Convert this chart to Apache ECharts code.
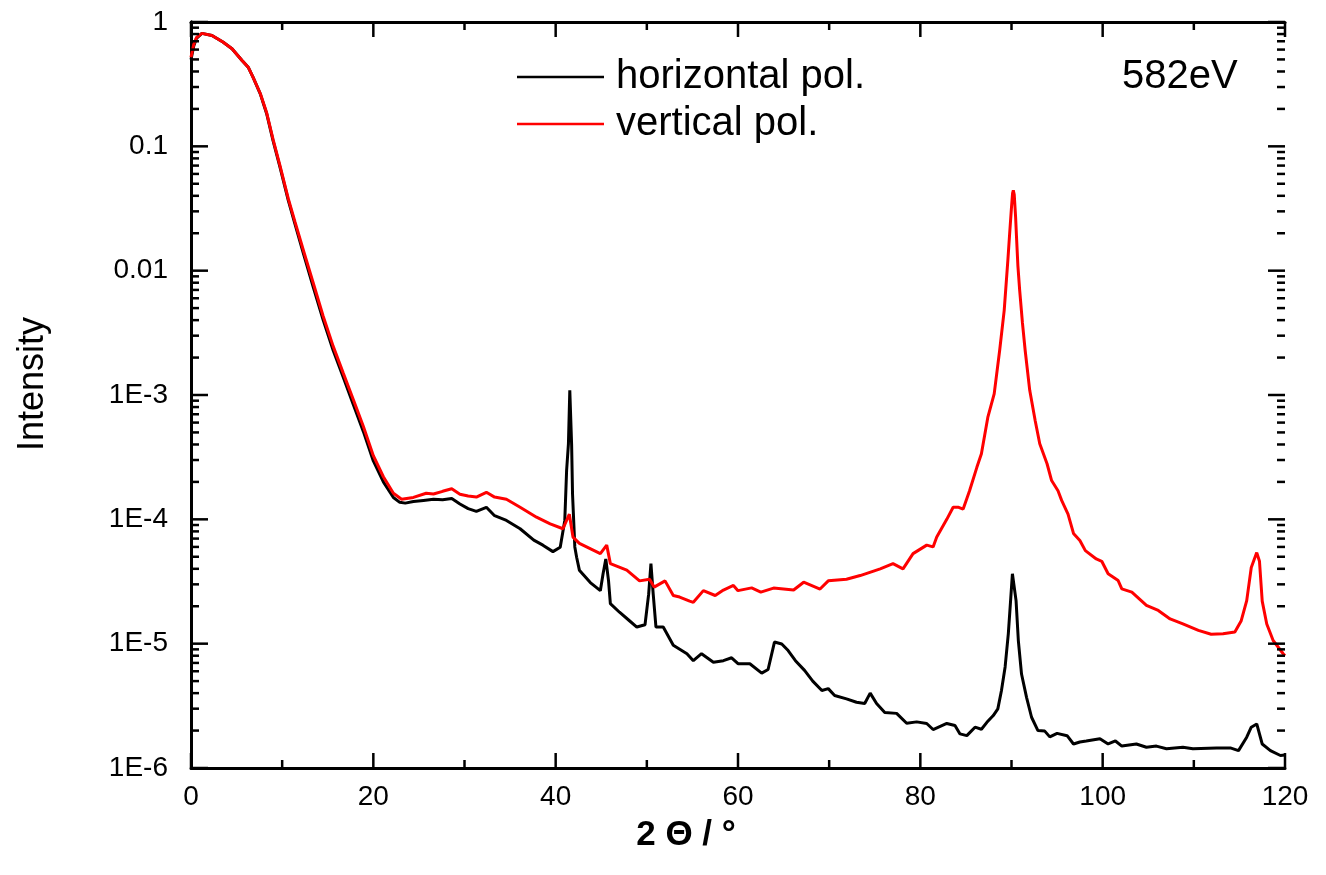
<!DOCTYPE html>
<html><head><meta charset="utf-8">
<script src="https://cdn.jsdelivr.net/npm/echarts@6/dist/echarts.min.js"></script>
<style>html,body{margin:0;padding:0;background:#fff}#c{width:1326px;height:875px}</style>
</head><body><div id="c"></div>
<script>
// ---- data ----
const horizAngle = [0,0.3,0.6,1.2,2.3,3.5,4.5,5.6,6.3,6.8,7.6,8.3,9.0,9.76,10.67,11.4,12.3,13.4,14.5,15.6,16.7,17.8,18.9,20.0,21.1,22.2,22.9,23.5,24.4,25.5,26.6,27.6,28.6,29.5,30.4,31.3,32.4,33.3,34.6,36.1,37.6,38.6,39.7,40.5,41.0,41.2,41.4,41.55,41.75,41.85,42.1,42.3,42.6,43.8,44.9,45.2,45.5,45.8,46.0,47.0,48.0,48.9,49.8,50.2,50.45,50.7,51.0,51.8,52.9,54.4,55.1,56.0,57.3,58.4,59.3,60.0,61.3,62.6,63.3,64.0,64.8,65.5,66.3,67.3,68.2,69.2,69.9,70.6,71.9,73.0,73.9,74.5,75.2,76.1,77.4,78.5,79.6,80.7,81.4,82.9,83.8,84.35,85.1,86.0,86.7,87.3,88.0,88.5,88.9,89.3,89.65,89.9,90.1,90.25,90.5,90.75,91.1,91.65,92.2,92.9,93.65,94.2,95.0,96.1,96.8,97.5,98.2,99.7,100.6,101.4,102.1,103.7,104.8,105.9,107.0,108.8,109.9,112.5,114.0,114.9,115.8,116.3,116.9,117.5,118.4,119.5,120.0];
const horizIntensity = [0.50,0.64,0.74,0.81,0.78,0.69,0.61,0.49,0.43,0.36,0.264,0.183,0.111,0.068,0.0367,0.0238,0.0140,0.0074,0.0040,0.00228,0.00139,8.4e-4,5.1e-4,2.95e-4,2.0e-4,1.5e-4,1.37e-4,1.35e-4,1.39e-4,1.42e-4,1.45e-4,1.44e-4,1.47e-4,1.33e-4,1.22e-4,1.16e-4,1.25e-4,1.07e-4,9.8e-5,8.4e-5,6.8e-5,6.2e-5,5.5e-5,5.97e-5,9.8e-5,2.47e-4,4.05e-4,1.09e-3,4.0e-4,1.6e-4,6.0e-5,4.95e-5,3.9e-5,3.1e-5,2.67e-5,3.65e-5,4.8e-5,3.2e-5,2.1e-5,1.79e-5,1.55e-5,1.36e-5,1.42e-5,2.5e-5,4.4e-5,2.5e-5,1.36e-5,1.36e-5,9.7e-6,8.3e-6,7.3e-6,8.3e-6,7.1e-6,7.3e-6,7.7e-6,6.9e-6,6.9e-6,5.8e-6,6.2e-6,1.03e-5,9.95e-6,8.8e-6,7.3e-6,6.1e-6,5.0e-6,4.2e-6,4.35e-6,3.83e-6,3.6e-6,3.38e-6,3.3e-6,4.0e-6,3.3e-6,2.8e-6,2.75e-6,2.29e-6,2.35e-6,2.28e-6,2.04e-6,2.28e-6,2.2e-6,1.88e-6,1.82e-6,2.13e-6,2.05e-6,2.33e-6,2.64e-6,2.99e-6,4.2e-6,6.5e-6,1.2e-5,2.22e-5,3.65e-5,3.76e-5,2.22e-5,1.06e-5,5.7e-6,3.7e-6,2.56e-6,2.0e-6,1.98e-6,1.78e-6,1.9e-6,1.82e-6,1.56e-6,1.62e-6,1.65e-6,1.72e-6,1.56e-6,1.65e-6,1.5e-6,1.56e-6,1.47e-6,1.5e-6,1.43e-6,1.47e-6,1.43e-6,1.45e-6,1.45e-6,1.38e-6,1.77e-6,2.13e-6,2.26e-6,1.56e-6,1.38e-6,1.26e-6,1.27e-6];
const vertAngle = [0,0.3,0.6,1.2,2.3,3.5,4.5,5.6,6.3,6.8,7.6,8.3,9.0,9.76,10.67,11.4,12.3,13.4,14.5,15.6,16.7,17.8,18.9,20.0,21.1,22.2,23.1,24.4,25.8,26.6,27.6,28.6,29.5,30.4,31.3,32.4,33.3,34.6,36.1,37.9,39.4,40.8,41.5,41.9,42.6,44.9,45.6,46.0,47.8,49.2,50.3,50.8,52.0,52.9,53.6,54.7,55.1,56.2,57.5,58.4,59.5,60.0,61.5,62.5,63.9,66.1,67.2,69.0,69.9,71.9,73.4,75.6,77.0,78.1,79.2,80.7,81.4,81.8,82.9,83.6,84.2,84.7,85.4,86.2,86.7,87.4,88.1,88.7,89.2,89.6,89.8,90.0,90.12,90.2,90.3,90.45,90.55,90.7,90.9,91.2,91.5,92.0,92.6,93.1,93.9,94.4,95.1,95.5,96.2,96.8,97.5,98.1,99.3,99.9,100.6,101.7,102.1,103.2,104.8,106.1,107.4,108.8,110.5,111.9,113.2,114.5,115.2,115.8,116.3,116.9,117.2,117.5,118.0,118.7,119.8,120.0];
const vertIntensity = [0.52,0.66,0.75,0.81,0.78,0.69,0.61,0.49,0.43,0.36,0.266,0.186,0.114,0.070,0.038,0.0248,0.0148,0.0080,0.0043,0.00246,0.00150,9.2e-4,5.6e-4,3.25e-4,2.2e-4,1.62e-4,1.45e-4,1.5e-4,1.62e-4,1.6e-4,1.68e-4,1.76e-4,1.59e-4,1.54e-4,1.51e-4,1.65e-4,1.51e-4,1.45e-4,1.25e-4,1.04e-4,9.2e-5,8.4e-5,1.1e-4,7.2e-5,6.4e-5,5.3e-5,6.2e-5,4.4e-5,3.9e-5,3.2e-5,3.3e-5,2.85e-5,3.2e-5,2.44e-5,2.37e-5,2.2e-5,2.15e-5,2.67e-5,2.44e-5,2.7e-5,2.94e-5,2.67e-5,2.81e-5,2.6e-5,2.8e-5,2.7e-5,3.12e-5,2.75e-5,3.2e-5,3.3e-5,3.53e-5,4.0e-5,4.4e-5,4.0e-5,5.3e-5,6.2e-5,6.0e-5,7.2e-5,1.0e-4,1.25e-4,1.25e-4,1.21e-4,1.7e-4,2.62e-4,3.37e-4,6.6e-4,1.02e-3,2.28e-3,4.8e-3,0.0121,0.020,0.0324,0.042,0.0442,0.041,0.027,0.0186,0.011,6.9e-3,3.8e-3,2.28e-3,1.09e-3,6.2e-4,4.05e-4,2.8e-4,2.05e-4,1.7e-4,1.42e-4,1.1e-4,7.7e-5,6.76e-5,5.6e-5,4.8e-5,4.6e-5,3.65e-5,3.22e-5,2.76e-5,2.6e-5,2.03e-5,1.85e-5,1.58e-5,1.44e-5,1.28e-5,1.19e-5,1.2e-5,1.24e-5,1.53e-5,2.22e-5,4.1e-5,5.4e-5,4.6e-5,2.2e-5,1.44e-5,1.06e-5,8.3e-6,8.0e-6];
const seriesNames = ['horizontal pol.', 'vertical pol.'];
const xMajorTicks = [0,20,40,60,80,100,120];
const xMinorTicks = [10,30,50,70,90,110];
const yTickLabels = ['1E-6','1E-5','1E-4','1E-3','0.01','0.1','1'];
const yDecadeExponents = [-6,-5,-4,-3,-2,-1,0];
const yMinorMantissas = [2,3,4,5,6,7,8,9];
const energyLabel = '582eV';
const xTitle = '2 \u0398 / \u00b0';
const yTitle = 'Intensity';

// ---- build ----
const X_MIN = 0, X_MAX = 120, Y_MIN = 1e-6, Y_MAX = 1;
const zip = (a, b) => a.map((x, i) => [x, b[i]]);
const yMajorData = yDecadeExponents.map(e => [X_MIN, Math.pow(10, e)]);
const yMinorData = [];
yDecadeExponents.slice(0, -1).forEach(e => yMinorMantissas.forEach(m => yMinorData.push([X_MIN, m * Math.pow(10, e)])));
const xMajorData = xMajorTicks.map(x => [x, Y_MIN]);
const xMinorData = xMinorTicks.map(x => [x, Y_MIN]);

const tickStyle = {stroke: '#000', lineWidth: 2.5};
function yTickSeries(data, len) {
  return {type: 'custom', silent: true, data: data, encode: {x: 0, y: 1}, clip: false, z: 5,
    renderItem: (params, api) => {
      const v = api.value(1);
      const l = api.coord([X_MIN, v]);
      const r = api.coord([X_MAX, v]);
      return {type: 'group', children: [
        {type: 'line', shape: {x1: l[0], y1: l[1], x2: l[0] + len, y2: l[1]}, style: tickStyle},
        {type: 'line', shape: {x1: r[0], y1: r[1], x2: r[0] - len, y2: r[1]}, style: tickStyle}
      ]};
    }};
}
function xTickSeries(data, len) {
  return {type: 'custom', silent: true, data: data, encode: {x: 0, y: 1}, clip: false, z: 5,
    renderItem: (params, api) => {
      const v = api.value(0);
      const b = api.coord([v, Y_MIN]);
      const t = api.coord([v, Y_MAX]);
      return {type: 'group', children: [
        {type: 'line', shape: {x1: b[0], y1: b[1], x2: b[0], y2: b[1] - len}, style: tickStyle},
        {type: 'line', shape: {x1: t[0], y1: t[1], x2: t[0], y2: t[1] + len}, style: tickStyle}
      ]};
    }};
}

const FONT = '"Liberation Sans", Arial, sans-serif';
const chart = echarts.init(document.getElementById('c'), null, {renderer: 'canvas'});
const axisLine = {show: true, lineStyle: {color: '#000', width: 3}};
const xBase = {
  type: 'value', min: X_MIN, max: X_MAX, interval: 20,
  axisLine: axisLine, splitLine: {show: false}, axisTick: {show: false}, minorTick: {show: false}
};
const yBase = {
  type: 'log', logBase: 10, min: Y_MIN, max: Y_MAX, interval: 1, splitNumber: 6,
  axisLine: axisLine, splitLine: {show: false}, axisTick: {show: false}, minorTick: {show: false}
};
chart.setOption({
  animation: false,
  backgroundColor: '#fff',
  grid: {left: 191, right: 41, top: 22, bottom: 107},
  xAxis: [
    Object.assign({}, xBase, {position: 'bottom',
      axisLabel: {show: true, color: '#000', fontSize: 28, fontFamily: FONT, margin: 15}}),
    Object.assign({}, xBase, {position: 'top', axisLabel: {show: false}})
  ],
  yAxis: [
    Object.assign({}, yBase, {position: 'left',
      axisLabel: {show: true, color: '#000', fontSize: 28, fontFamily: FONT, margin: 23,
        formatter: v => yTickLabels[Math.round(Math.log10(v)) + 6]}}),
    Object.assign({}, yBase, {position: 'right', axisLabel: {show: false}})
  ],
  legend: {
    orient: 'vertical', left: 512, top: 52, itemWidth: 87, itemHeight: 2.5, itemGap: 7,
    icon: 'rect',
    data: seriesNames,
    textStyle: {color: '#000', fontSize: 40, fontFamily: FONT, lineHeight: 40, padding: [0, 0, 0, 7]}
  },
  graphic: [
    {type: 'text', x: 1122, y: 77, style: {text: energyLabel, fill: '#000', font: '40px ' + FONT, verticalAlign: 'middle', align: 'left'}},
    {type: 'text', x: 33, y: 384, rotation: Math.PI / 2, style: {text: yTitle, fill: '#000', font: '36px ' + FONT, verticalAlign: 'middle', align: 'center'}},
    {type: 'text', x: 686, y: 835, style: {text: xTitle, fill: '#000', font: 'bold 35px ' + FONT, verticalAlign: 'middle', align: 'center'}}
  ],
  series: [
    {name: seriesNames[0], type: 'line', data: zip(horizAngle, horizIntensity), showSymbol: false, symbol: 'none',
      lineStyle: {color: '#000', width: 3}, itemStyle: {color: '#000'}},
    {name: seriesNames[1], type: 'line', data: zip(vertAngle, vertIntensity), showSymbol: false, symbol: 'none',
      lineStyle: {color: '#ff0000', width: 3}, itemStyle: {color: '#ff0000'}},
    yTickSeries(yMajorData, 17),
    yTickSeries(yMinorData, 8),
    xTickSeries(xMajorData, 15),
    xTickSeries(xMinorData, 8)
  ]
});
</script></body></html>
